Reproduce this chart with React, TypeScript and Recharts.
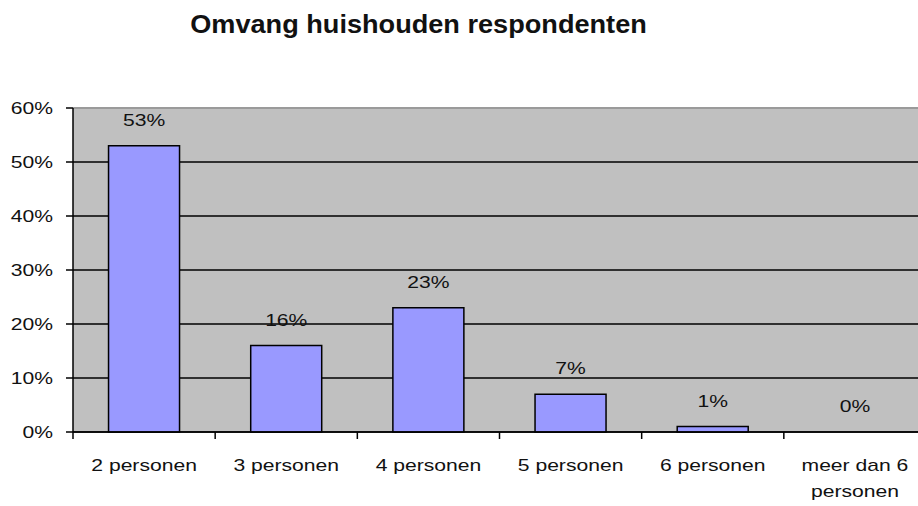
import { ComposedChart, Bar, Line, XAxis, YAxis, CartesianGrid, LabelList, ReferenceLine } from "recharts";

const categories = ["2 personen", "3 personen", "4 personen", "5 personen", "6 personen", "meer dan 6 personen"];
const shares = [53, 16, 23, 7, 1, 0];
const yTicks = [0, 10, 20, 30, 40, 50, 60];
const title = "Omvang huishouden respondenten";

const data = categories.map((name, i) => ({ name, value: shares[i] }));

const FONT = '"Liberation Sans", Arial, sans-serif';
// the original picture is stretched sideways, so text is widened to match
const STRETCH = 1.32;

function wrap(label: string, max = 11) {
  const words = label.split(" ");
  const lines: string[] = [];
  let cur = "";
  for (const w of words) {
    const next = cur ? cur + " " + w : w;
    if (next.length > max && cur) {
      lines.push(cur);
      cur = w;
    } else cur = next;
  }
  if (cur) lines.push(cur);
  return lines;
}

function WideText({ x, y, anchor, children, dy }: any) {
  return (
    <text
      transform={`translate(${x},${y}) scale(${STRETCH},1)`}
      textAnchor={anchor}
      dy={dy}
      fontFamily={FONT}
      fontSize={16}
      fill="#111"
    >
      {children}
    </text>
  );
}

function XTick(props: any) {
  const { x, y, payload, index } = props;
  const half = payload.offset ?? 0;
  const lines = wrap(String(payload.value));
  return (
    <g>
      {index === 0 && <line x1={x - half} x2={x - half} y1={y} y2={y + 7} stroke="#000" strokeWidth={1.5} />}
      <line x1={x + half} x2={x + half} y1={y} y2={y + 7} stroke="#000" strokeWidth={1.5} />
      {lines.map((l, i) => (
        <WideText key={i} x={x} y={y + 39 + i * 26} anchor="middle">
          {l}
        </WideText>
      ))}
    </g>
  );
}

function YTick(props: any) {
  const { x, y, payload } = props;
  return (
    <WideText x={x} y={y} anchor="end" dy="0.36em">
      {`${payload.value}%`}
    </WideText>
  );
}

// labels sit on an invisible line so that the 0% bar still gets one
function ValueLabel(props: any) {
  const { x, y, value } = props;
  return (
    <WideText x={x} y={y - 20} anchor="middle">
      {`${value}%`}
    </WideText>
  );
}

export default function App() {
  return (
    <div style={{ position: "absolute", left: 0, top: 0, width: 918, height: 506, overflow: "hidden", background: "#fff" }}>
      <div
        style={{
          position: "absolute",
          left: 0,
          top: 12,
          width: 837,
          textAlign: "center",
          fontFamily: FONT,
          fontWeight: "bold",
          fontSize: 25,
          lineHeight: "25px",
          whiteSpace: "nowrap",
          transform: "scaleX(1.085)",
          color: "#111",
        }}
      >
        {title}
      </div>
      <ComposedChart width={931} height={506} data={data} margin={{ top: 108, right: 5, bottom: 0, left: 0 }} barCategoryGap="25%">
        <CartesianGrid vertical={false} stroke="#000" strokeWidth={1.5} fill="#C0C0C0" fillOpacity={1} />
        <XAxis
          dataKey="name"
          height={74}
          axisLine={{ stroke: "#000", strokeWidth: 1.5 }}
          tickLine={false}
          tickSize={0}
          tickMargin={0}
          interval={0}
          tick={<XTick />}
        />
        <YAxis
          width={73}
          domain={[0, 60]}
          ticks={yTicks}
          interval={0}
          axisLine={{ stroke: "#000", strokeWidth: 1.5 }}
          tickLine={{ stroke: "#000", strokeWidth: 1.5 }}
          tickSize={7}
          tickMargin={13}
          tick={<YTick />}
        />
        <ReferenceLine y={60} stroke="#9a9a9a" strokeWidth={2} />
        <Bar dataKey="value" fill="#9999FF" stroke="#000" strokeWidth={1.5} isAnimationActive={false} />
        <Line dataKey="value" stroke="none" dot={false} activeDot={false} legendType="none" isAnimationActive={false}>
          <LabelList dataKey="value" content={<ValueLabel />} />
        </Line>
      </ComposedChart>
    </div>
  );
}
